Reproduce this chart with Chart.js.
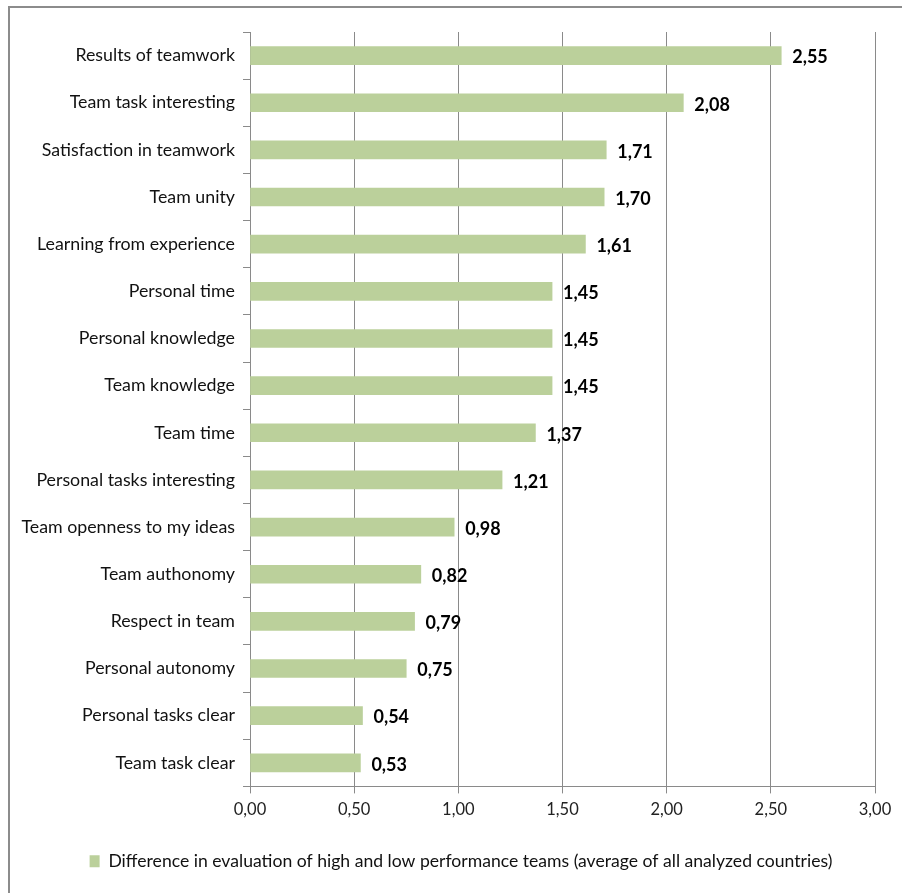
<!DOCTYPE html>
<html>
<head>
<meta charset="utf-8">
<script src="https://cdn.jsdelivr.net/npm/chart.js@4/dist/chart.umd.min.js"></script>
<style>
  html, body { margin: 0; padding: 0; background: #fff; }
  #wrap { position: relative; width: 902px; height: 893px; overflow: hidden; }
  #frame { position: absolute; left: 8px; top: 6px; width: 1000px; height: 1000px;
           border-left: 2px solid #8c8c8c; border-top: 2px solid #8c8c8c; box-sizing: border-box; }
  canvas { position: absolute; left: 0; top: 0; }
</style>
</head>
<body>
<div id="wrap">
  <div id="frame"></div>
  <canvas id="c" width="902" height="893"></canvas>
</div>
<script>
const categories = [
  "Results of teamwork",
  "Team task interesting",
  "Satisfaction in teamwork",
  "Team unity",
  "Learning from experience",
  "Personal time",
  "Personal knowledge",
  "Team knowledge",
  "Team time",
  "Personal tasks interesting",
  "Team openness to my ideas",
  "Team authonomy",
  "Respect in team",
  "Personal autonomy",
  "Personal tasks clear",
  "Team task clear"
];
const differenceValues = [2.55, 2.08, 1.71, 1.70, 1.61, 1.45, 1.45, 1.45, 1.37, 1.21, 0.98, 0.82, 0.79, 0.75, 0.54, 0.53];
const xTicks = [0, 0.5, 1, 1.5, 2, 2.5, 3];
const seriesName = "Difference in evaluation of high and low performance teams (average of all analyzed countries)";

const FONT = "Lato, sans-serif";
const fmt = v => v.toFixed(2).replace('.', ',');

// value labels to the right of each bar
const valueLabels = {
  id: 'valueLabels',
  afterDatasetsDraw(chart) {
    const ctx = chart.ctx;
    const meta = chart.getDatasetMeta(0);
    ctx.save();
    ctx.font = "bold 18px " + FONT;
    ctx.fillStyle = '#000';
    ctx.textBaseline = 'middle';
    ctx.textAlign = 'left';
    meta.data.forEach((bar, i) => {
      ctx.fillText(fmt(chart.data.datasets[0].data[i]), bar.x + 11, bar.y + 2);
    });
    ctx.restore();
  }
};

// centre the legend on the whole canvas rather than on the padded box
const legendShift = {
  id: 'legendShift',
  afterLayout(chart) {
    const lg = chart.legend;
    if (!lg) return;
    const shift = chart.width / 2 + 10 - (lg.left + lg.right) / 2;
    lg.left += shift;
    lg.right += shift;
  }
};

new Chart(document.getElementById('c'), {
  type: 'bar',
  data: {
    labels: categories,
    datasets: [{
      label: seriesName,
      data: differenceValues,
      backgroundColor: '#bbd09b',
      borderWidth: 0,
      barThickness: 18
    }]
  },
  options: {
    indexAxis: 'y',
    responsive: false,
    animation: false,
    layout: { padding: { top: 32, right: 27, left: 0, bottom: 13 } },
    scales: {
      x: {
        min: 0, max: 3,
        afterBuildTicks: s => { s.ticks = xTicks.map(v => ({ value: v })); },
        afterFit: s => { s.height = 58; },
        grid: { color: '#8a8a8a', lineWidth: 1, tickLength: 7, drawTicks: true },
        border: { color: '#8a8a8a', width: 1 },
        ticks: { font: { family: FONT, size: 16.5 }, color: '#222', padding: 6,
                 callback: v => fmt(v) }
      },
      y: {
        afterFit: s => { s.width = 250; },
        grid: { drawOnChartArea: false, color: '#8a8a8a', tickLength: 7, offset: true },
        border: { color: '#8a8a8a', width: 1 },
        ticks: { font: { family: FONT, size: 17.8 }, color: '#111', padding: 8 }
      }
    },
    plugins: {
      legend: {
        position: 'bottom',
        labels: { boxWidth: 10, boxHeight: 12, font: { family: FONT, size: 17.6 }, color: '#111', padding: 8 }
      },
      tooltip: { enabled: false }
    }
  },
  plugins: [valueLabels, legendShift]
});
</script>
</body>
</html>
